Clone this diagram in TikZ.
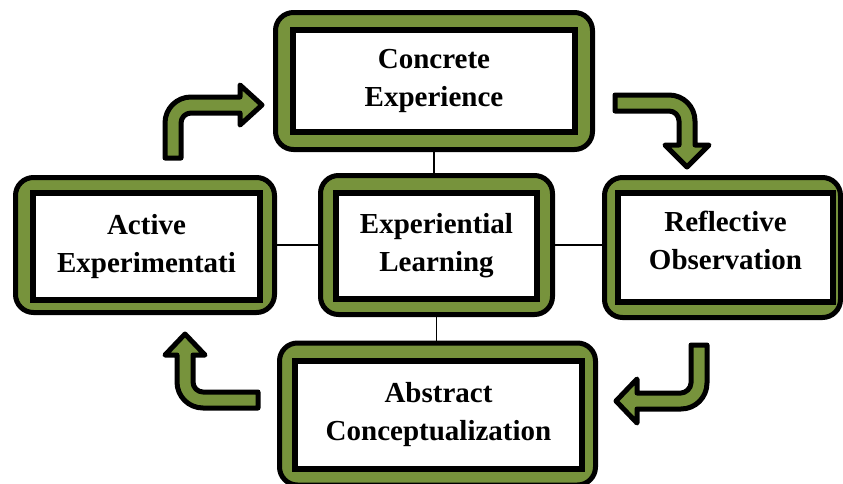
\documentclass[tikz,border=0pt]{standalone}
\usepackage{fontspec}
\setmainfont{Liberation Serif}
\definecolor{olivegreen}{HTML}{77933C}

\begin{document}
\begin{tikzpicture}[
		x=1pt, y=-1pt,
		outerbox/.style={draw, line width=5pt, fill=olivegreen, rounded corners=18pt, inner sep=0pt},
		innerbox/.style={draw, line width=6pt, fill=white, inner sep=0pt, align=center,
			font=\fontsize{29}{38}\selectfont\bfseries},
		bentarrow/.style={draw, line width=5pt, fill=olivegreen, line join=round},
		link/.style={line width=1.5pt}
		]
		\useasboundingbox (0,0) rectangle (843,483);
		% the five boxes
		\node[outerbox, minimum width=317pt, minimum height=137pt] (concreteOut) at (434,81) {};
		\node[innerbox, minimum width=282pt, minimum height=102pt] (concrete) at (434,81) {Concrete\\Experience};
		\node[outerbox, minimum width=259pt, minimum height=135pt] (activeOut) at (145,245) {};
		\node[innerbox, minimum width=227pt, minimum height=107pt] (active) at (146.5,246.5) {Active\\Experimentati};
		\node[outerbox, minimum width=232pt, minimum height=139pt] (learningOut) at (436.5,245) {};
		\node[innerbox, minimum width=201pt, minimum height=106pt] (learning) at (436.5,246) {Experiential\\Learning};
		\node[outerbox, minimum width=236pt, minimum height=140pt] (reflectiveOut) at (722.5,247.5) {};
		\node[innerbox, minimum width=215pt, minimum height=109pt, text depth=14pt] (reflective) at (725.5,247.5) {Reflective\\Observation};
		\node[outerbox, minimum width=316pt, minimum height=142pt] (abstractOut) at (437.5,414) {};
		\node[innerbox, minimum width=287pt, minimum height=108pt] (abstract) at (438.5,415) {Abstract\\Conceptualization};

		\draw[link] (concreteOut.south) -- (concreteOut.south |- learningOut.north);
		\draw[link] (learningOut.south) -- (learningOut.south |- abstractOut.north);
		\draw[link] (activeOut.east) -- (activeOut.east -| learningOut.west);
		\draw[link] (learningOut.east) -- (learningOut.east -| reflectiveOut.west);

		% bent arrows round the cycle
		\draw[bentarrow] (165,158) -- (165,123) .. controls (165,108.6) and (176.6,97) .. (191,97)
			-- (240,97) -- (240,85) -- (262,105) -- (240,125) -- (240,113) -- (191,113)
			.. controls (185.5,113) and (181,117.5) .. (181,123) -- (181,158) -- cycle;
		\draw[bentarrow] (615,95) -- (669,95) .. controls (683.4,95) and (695,106.6) .. (695,121)
			-- (695,145) -- (709,145) -- (687,167) -- (665,145) -- (679,145) -- (679,121)
			.. controls (679,115.5) and (674.5,111) .. (669,111) -- (615,111) -- cycle;
		\draw[bentarrow] (691,345) -- (707,345) -- (707,383) .. controls (707,397.4) and (695.4,409) .. (681,409)
			-- (637,409) -- (637,423) -- (616,401) -- (637,379) -- (637,393) -- (681,393)
			.. controls (685.5,393) and (691,388.5) .. (691,383) -- cycle;
		\draw[bentarrow] (258,408) -- (203,408) .. controls (188.6,408) and (177,396.4) .. (177,382)
			-- (177,355) -- (165,355) -- (185,334) -- (205,355) -- (193,355) -- (193,382)
			.. controls (193,387.5) and (197.5,392) .. (203,392) -- (258,392) -- cycle;
	\end{tikzpicture}
\end{document}
